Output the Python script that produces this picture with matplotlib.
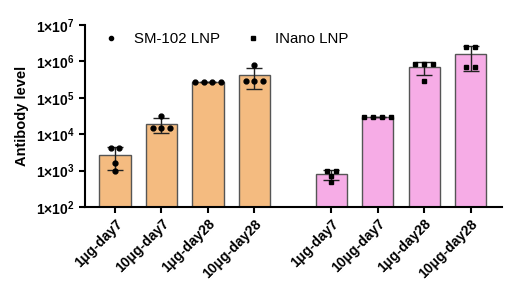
import numpy as np
import matplotlib
matplotlib.use('Agg')
import matplotlib.pyplot as plt
from matplotlib.lines import Line2D

plt.rcParams['font.family'] = 'Liberation Sans'
plt.rcParams['mathtext.fontset'] = 'custom'
plt.rcParams['mathtext.rm'] = 'Liberation Sans'
plt.rcParams['mathtext.bf'] = 'Liberation Sans:bold'

labels = ['1μg-day7', '10μg-day7', '1μg-day28', '10μg-day28']
groups = ['SM-102 LNP', 'INano LNP']

# individual animals per bar
sm102_points = [
    [4100, 4100, 1600, 1000],
    [32000, 15000, 15000, 15000],
    [270000, 270000, 270000, 270000],
    [790000, 296000, 296000, 296000],
]
inano_points = [
    [970, 970, 710, 500],
    [30000, 30000, 30000, 30000],
    [830000, 830000, 830000, 290000],
    [2460000, 2460000, 690000, 690000],
]

colors = ['#F4BB80', '#F6ACE6']
markers = ['o', 's']

fig = plt.figure(figsize=(5.2, 2.95), dpi=100)
ax = fig.add_axes([0.1635, 0.298, 0.8015, 0.617])

pos_all = [np.arange(4), np.arange(4) + 4.65]

for g, pts_list in enumerate([sm102_points, inano_points]):
    pos = pos_all[g]
    means = [np.mean(p) for p in pts_list]
    sds = [np.std(p, ddof=1) for p in pts_list]
    ax.bar(pos, means, width=0.67, color=colors[g], edgecolor='#555555',
           linewidth=1, zorder=1, bottom=0)
    ax.errorbar(pos, means, yerr=sds, fmt='none', ecolor='#222222',
                elinewidth=1, capsize=5.5, capthick=1, zorder=2)
    for x, p in zip(pos, pts_list):
        vals = np.array(p, dtype=float)
        # spread out animals that share a value
        for v in np.unique(vals):
            n = np.sum(vals == v)
            offs = (np.arange(n) - (n - 1) / 2) * 0.19
            ax.plot(x + offs, [v] * n, linestyle='none', marker=markers[g],
                    markersize=3.5, color='black', zorder=3)

ax.set_yscale('log')
ax.set_ylim(1e2, 1e7)
ax.set_xlim(-0.645, 8.32)
yt = [1e2, 1e3, 1e4, 1e5, 1e6, 1e7]
ax.set_yticks(yt)
ax.set_yticklabels([r'$\mathbf{1{\times}10^{%d}}$' % int(np.log10(t)) for t in yt],
                   fontsize=10)
ax.yaxis.set_minor_locator(matplotlib.ticker.NullLocator())
ax.set_xticks(np.concatenate(pos_all))
ax.set_xticklabels(labels * 2, rotation=45, ha='right', rotation_mode='anchor',
                   fontsize=10, fontweight='bold')
ax.set_ylabel('Antibody level', fontsize=10.5, fontweight='bold', labelpad=5)

for s in ['top', 'right']:
    ax.spines[s].set_visible(False)
for s in ['left', 'bottom']:
    ax.spines[s].set_linewidth(1.5)
ax.tick_params(width=1.5, length=4, direction='out')
ax.tick_params(axis='x', pad=3)

handles = [Line2D([], [], linestyle='none', marker=m, markersize=3, color='black')
           for m in markers]
ax.legend(handles, groups, loc='upper left', bbox_to_anchor=(-0.006, 1.035),
          ncol=2, frameon=False, fontsize=10.8, handletextpad=0.5,
          columnspacing=1.2)

fig.savefig('out.png', dpi=100)
